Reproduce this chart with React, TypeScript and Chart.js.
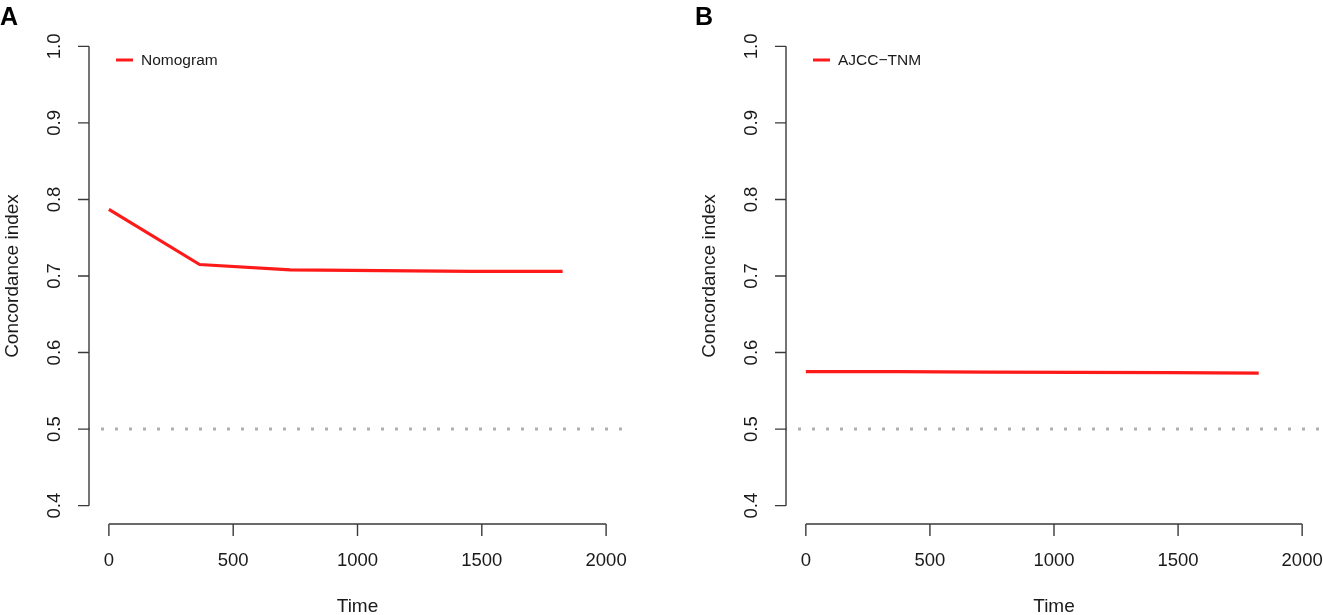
import React, { useEffect, useRef } from "react";
import { Chart, registerables } from "chart.js";

Chart.register(...registerables);

const FONT = '"Liberation Sans", Arial, Helvetica, sans-serif';
const RED = "#ff1a1a";

// time points (days) and concordance index per model
const times = [0, 365, 730, 1095, 1460, 1825];
const nomogramIndex = [0.787, 0.715, 0.708, 0.707, 0.706, 0.706];
const ajccIndex = [0.575, 0.5752, 0.5745, 0.5741, 0.5738, 0.5731];

const xTicks = [0, 500, 1000, 1500, 2000];
const yTicks = [0.4, 0.5, 0.6, 0.7, 0.8, 0.9, 1.0];
const yTickLabels = ["0.4", "0.5", "0.6", "0.7", "0.8", "0.9", "1.0"];
const refLevel = 0.5;

const xLabel = "Time";
const yLabel = "Concordance index";

// R-like detached axes, labels, legend and panel letter
const rAxesPlugin = {
  id: "rAxes",
  afterDraw(chart: any, _args: any, opts: any) {
    const { ctx, chartArea } = chart;
    const xs = chart.scales.x;
    const ys = chart.scales.y;
    const ax = chartArea.left;
    const ay = chartArea.bottom;
    ctx.save();

    ctx.strokeStyle = "#3a3a3a";
    ctx.lineWidth = 1.4;
    ctx.lineCap = "butt";

    // y axis
    const yTop = ys.getPixelForValue(yTicks[yTicks.length - 1]);
    const yBot = ys.getPixelForValue(yTicks[0]);
    ctx.beginPath();
    ctx.moveTo(ax, yTop);
    ctx.lineTo(ax, yBot);
    yTicks.forEach((v) => {
      const py = ys.getPixelForValue(v);
      ctx.moveTo(ax - 11, py);
      ctx.lineTo(ax, py);
    });
    ctx.stroke();

    // x axis
    const xL = xs.getPixelForValue(xTicks[0]);
    const xR = xs.getPixelForValue(xTicks[xTicks.length - 1]);
    ctx.beginPath();
    ctx.moveTo(xL, ay);
    ctx.lineTo(xR, ay);
    xTicks.forEach((v) => {
      const px = xs.getPixelForValue(v);
      ctx.moveTo(px, ay);
      ctx.lineTo(px, ay + 12);
    });
    ctx.stroke();

    ctx.fillStyle = "#1a1a1a";
    ctx.font = `18.5px ${FONT}`;
    ctx.textAlign = "center";
    ctx.textBaseline = "alphabetic";
    xTicks.forEach((v) => {
      ctx.fillText(String(v), xs.getPixelForValue(v), ay + 42);
    });
    yTicks.forEach((v, i) => {
      ctx.save();
      ctx.translate(ax - 29, ys.getPixelForValue(v));
      ctx.rotate(-Math.PI / 2);
      ctx.fillText(yTickLabels[i], 0, 0);
      ctx.restore();
    });

    // axis titles
    ctx.font = `19px ${FONT}`;
    ctx.fillText(xLabel, (chartArea.left + chartArea.right) / 2, ay + 88);
    ctx.save();
    ctx.translate(ax - 71, (chartArea.top + chartArea.bottom) / 2);
    ctx.rotate(-Math.PI / 2);
    ctx.fillText(yLabel, 0, 0);
    ctx.restore();

    // legend
    const ly = chartArea.top + 32;
    ctx.strokeStyle = RED;
    ctx.lineWidth = 3;
    ctx.beginPath();
    ctx.moveTo(ax + 27, ly);
    ctx.lineTo(ax + 44, ly);
    ctx.stroke();
    ctx.font = `15.5px ${FONT}`;
    ctx.textAlign = "left";
    ctx.textBaseline = "middle";
    ctx.fillText(opts.series, ax + 52, ly + 1);

    // panel letter
    ctx.font = `bold 25px ${FONT}`;
    ctx.textBaseline = "alphabetic";
    ctx.fillStyle = "#000";
    ctx.fillText(opts.letter, opts.letterX, 25);

    ctx.restore();
  },
};

type PanelProps = {
  letter: string;
  series: string;
  values: number[];
  left: number;
  width: number;
  padLeft: number;
  padRight: number;
  letterX: number;
};

const Panel: React.FC<PanelProps> = ({
  letter,
  series,
  values,
  left,
  width,
  padLeft,
  padRight,
  letterX,
}) => {
  const canvasRef = useRef<HTMLCanvasElement>(null);
  const chartInstance = useRef<Chart | null>(null);

  useEffect(() => {
    const ctx = canvasRef.current?.getContext("2d");
    if (!ctx) return;
    if (chartInstance.current) chartInstance.current.destroy();

    chartInstance.current = new Chart(ctx, {
      type: "line",
      data: {
        datasets: [
          {
            label: series,
            data: times.map((t, i) => ({ x: t, y: values[i] })),
            borderColor: RED,
            borderWidth: 3.2,
            pointRadius: 0,
            tension: 0,
          },
          {
            label: "reference",
            data: [
              { x: -80, y: refLevel },
              { x: 2080, y: refLevel },
            ],
            borderColor: "#b0b0b0",
            borderWidth: 3,
            borderDash: [3, 11],
            borderDashOffset: 2,
            borderCapStyle: "butt",
            pointRadius: 0,
          },
        ],
      },
      options: {
        responsive: false,
        animation: false,
        events: [],
        layout: {
          padding: { left: padLeft, right: padRight, top: 28, bottom: 91 },
        },
        scales: {
          x: { type: "linear", min: -80, max: 2080, display: false },
          y: { type: "linear", min: 0.376, max: 1.024, display: false },
        },
        plugins: {
          legend: { display: false },
          tooltip: { enabled: false },
          rAxes: { letter, series, letterX },
        } as any,
      },
      plugins: [rAxesPlugin],
    });

    return () => {
      chartInstance.current?.destroy();
      chartInstance.current = null;
    };
  }, [letter, series, values, padLeft, padRight, letterX]);

  return (
    <div style={{ position: "absolute", left, top: 0, width, height: 615 }}>
      <canvas
        ref={canvasRef}
        width={width}
        height={615}
        style={{ width, height: 615 }}
      />
    </div>
  );
};

const App: React.FC = () => {
  return (
    <div
      style={{
        position: "absolute",
        left: 0,
        top: 0,
        width: 1323,
        height: 615,
        background: "#fff",
        overflow: "hidden",
      }}
    >
      <Panel
        letter="A"
        series="Nomogram"
        values={nomogramIndex}
        left={0}
        width={661}
        padLeft={89}
        padRight={35}
        letterX={0}
      />
      <Panel
        letter="B"
        series="AJCC−TNM"
        values={ajccIndex}
        left={661}
        width={662}
        padLeft={125}
        padRight={1}
        letterX={34}
      />
    </div>
  );
};

export default App;
